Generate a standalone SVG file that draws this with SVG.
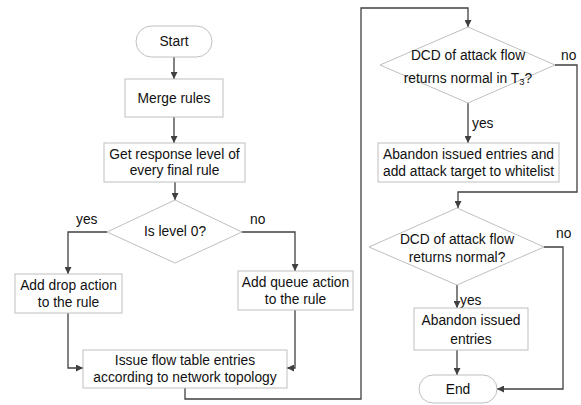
<svg xmlns="http://www.w3.org/2000/svg" width="581" height="405" viewBox="0 0 581 405">
  <defs>
    <marker id="arrow" viewBox="0 0 10 10" refX="10" refY="5" markerWidth="7" markerHeight="7" markerUnits="userSpaceOnUse" orient="auto">
      <path d="M0,0 L10,5 L0,10 z" fill="#404040"/>
    </marker>
    <style>
      .box { fill: #ffffff; stroke: #bfbfbf; stroke-width: 1; }
      .edge { fill: none; stroke: #404040; stroke-width: 1.3; marker-end: url(#arrow); }
      text { font-family: "Liberation Sans", Arial, sans-serif; font-size: 13.8px; fill: #111111; text-anchor: middle; dominant-baseline: central; }
      .lbl { text-anchor: start; }
    </style>
  </defs>
  <rect width="581" height="405" fill="#ffffff"/>

  <!-- connectors and their yes/no labels -->
  <g id="connectors">
    <path class="edge" d="M174,57 V79"/>
    <path class="edge" d="M174,117 V143"/>
    <path class="edge" d="M175,182 V200"/>
    <path class="edge" d="M107,232 H68 V274"/>
    <path class="edge" d="M242,232 H295 V271"/>
    <path class="edge" d="M68,313 V368 H83"/>
    <path class="edge" d="M295,310 V368 H287"/>
    <path class="edge" d="M185,388 V399 H361 V8 H468 V27"/>
    <path class="edge" d="M468,103 V143"/>
    <path class="edge" d="M555,65 H577 V192 H458 V208"/>
    <path class="edge" d="M457,285 V308"/>
    <path class="edge" d="M457,350 V375"/>
    <path class="edge" d="M544,247 H563 V389 H497"/>
    <text class="lbl" x="76" y="219">yes</text>
    <text class="lbl" x="250" y="219">no</text>
    <text class="lbl" x="561" y="55">no</text>
    <text class="lbl" x="472" y="123">yes</text>
    <text class="lbl" x="556" y="233">no</text>
    <text class="lbl" x="460" y="300">yes</text>
  </g>

  <g id="start">
    <rect class="box" x="136" y="26" width="76" height="31" rx="15.5"/>
    <text x="174" y="41.5">Start</text>
  </g>

  <g id="merge">
    <rect class="box" x="125" y="79" width="98" height="38"/>
    <text x="174" y="98">Merge rules</text>
  </g>

  <g id="response">
    <rect class="box" x="104" y="143" width="141" height="39"/>
    <text x="174.5" y="154.5">Get response level of</text>
    <text x="174.5" y="170.5">every final rule</text>
  </g>

  <g id="level0">
    <polygon class="box" points="175,200 242,232 175,263 107,232"/>
    <text x="175" y="231">Is level 0?</text>
  </g>

  <g id="drop">
    <rect class="box" x="15" y="274" width="107" height="39"/>
    <text x="68.5" y="285">Add drop action</text>
    <text x="68.5" y="302">to the rule</text>
  </g>

  <g id="queue">
    <rect class="box" x="238" y="271" width="115" height="39"/>
    <text x="295.5" y="282">Add queue action</text>
    <text x="295.5" y="299">to the rule</text>
  </g>

  <g id="issue">
    <rect class="box" x="83" y="350" width="204" height="38"/>
    <text x="185" y="360.5">Issue flow table entries</text>
    <text x="185" y="377.5">according to network topology</text>
  </g>

  <g id="check-t3">
    <polygon class="box" points="468,27 555,65 468,103 380,65"/>
    <text x="468" y="55">DCD of attack flow</text>
    <text x="468" y="78">returns normal in T<tspan font-size="9.5" dy="3">3</tspan><tspan dy="-3">?</tspan></text>
  </g>

  <g id="whitelist">
    <rect class="box" x="378" y="143" width="181" height="39"/>
    <text x="468.5" y="154.5">Abandon issued entries and</text>
    <text x="468.5" y="171">add attack target to whitelist</text>
  </g>

  <g id="check-normal">
    <polygon class="box" points="457,208 544,247 457,285 369,247"/>
    <text x="457" y="239">DCD of attack flow</text>
    <text x="457" y="257">returns normal?</text>
  </g>

  <g id="abandon">
    <rect class="box" x="414" y="308" width="114" height="42"/>
    <text x="471" y="320">Abandon issued</text>
    <text x="471" y="339">entries</text>
  </g>

  <g id="end">
    <rect class="box" x="419" y="375" width="78" height="28" rx="14"/>
    <text x="458" y="389">End</text>
  </g>
</svg>
